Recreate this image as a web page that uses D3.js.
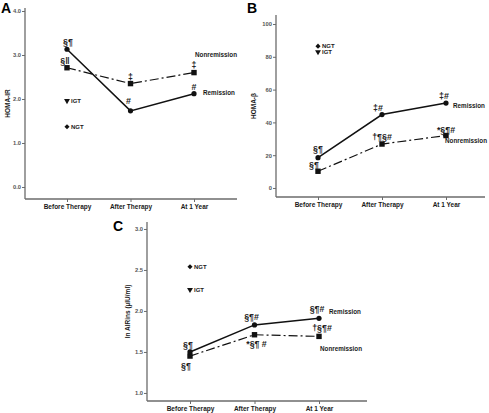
<!DOCTYPE html>
<html><head><meta charset="utf-8">
<script src="https://cdn.jsdelivr.net/npm/d3@7"></script>
<style>
body{margin:0;background:#fff;}
svg text{font-family:"Liberation Sans",Arial,sans-serif;font-weight:bold;}
</style></head>
<body><svg id="c" width="489" height="413"></svg>
<script>
const categories = ["Before Therapy","After Therapy","At 1 Year"];

// Panel A: HOMA-IR
const homaIR_remission = [3.13, 1.73, 2.12];
const homaIR_nonremission = [2.71, 2.35, 2.60];
const homaIR_ref = {NGT:1.37, IGT:1.96};
const homaIR_ann_rem = ["§¶","#","#"];
const homaIR_ann_non = ["§‖","‡","‡"];
const homaIR_ticks = [0,1,2,3,4];

// Panel B: HOMA-beta
const homaB_remission = [18.5, 44.8, 51.8];
const homaB_nonremission = [10.2, 26.8, 32.0];
const homaB_ref = {NGT:86.5, IGT:83.0};
const homaB_ann_rem = ["§¶","‡#","‡#"];
const homaB_ann_non = ["§¶","†¶§#","*§¶#"];
const homaB_ticks = [0,20,40,60,80,100];

// Panel C: ln AIRins
const air_remission = [1.50, 1.83, 1.91];
const air_nonremission = [1.45, 1.71, 1.69];
const air_ref = {NGT:2.54, IGT:2.26};
const air_ann_rem = ["§¶","§¶#","§¶#"];
const air_ann_non = ["§¶","*§¶ #","†§¶#"];
const air_ticks = [1.0,1.5,2.0,2.5,3.0];

const svg = d3.select("#c");
const AX = "#6b6b6b", TX = "#1a1a1a";

function panel(cfg){
  const g = svg.append("g");
  const x = d3.scalePoint().domain(categories).range([cfg.x0 + cfg.pad, cfg.x1 - cfg.padR]);
  const y = d3.scaleLinear().domain(cfg.ydom).range([cfg.yb, cfg.yt]);
  g.append("line").attr("x1",cfg.x0).attr("x2",cfg.x1).attr("y1",cfg.yb).attr("y2",cfg.yb).attr("stroke",AX).attr("stroke-width",1.3);
  g.append("line").attr("x1",cfg.x0).attr("x2",cfg.x0).attr("y1",cfg.yb).attr("y2",cfg.yt).attr("stroke",AX).attr("stroke-width",1.3);
  const ya = g.append("g").attr("transform",`translate(${cfg.x0},0)`)
    .call(d3.axisLeft(y).tickValues(cfg.ticks).tickFormat(cfg.fmt).tickSize(3).tickPadding(1));
  ya.select(".domain").remove();
  ya.selectAll("line").attr("stroke",AX);
  ya.selectAll("text").attr("fill","#555").style("font-size","5.8px");
  const xa = g.append("g").attr("transform",`translate(0,${cfg.yb})`)
    .call(d3.axisBottom(x).tickSize(3).tickPadding(2));
  xa.select(".domain").remove();
  xa.selectAll("line").attr("stroke",AX);
  xa.selectAll("text").attr("fill",TX).style("font-size","6.5px");

  const line = d3.line().x((d,i)=>x(categories[i])).y(d=>y(d));
  g.append("path").datum(cfg.non).attr("d",line).attr("fill","none").attr("stroke","#111")
    .attr("stroke-width",1.2).attr("stroke-dasharray","9,3,2,3");
  g.append("path").datum(cfg.rem).attr("d",line).attr("fill","none").attr("stroke","#111").attr("stroke-width",1.5);
  g.selectAll(".sq").data(cfg.non).enter().append("rect")
    .attr("x",(d,i)=>x(categories[i])-2.7).attr("y",d=>y(d)-2.7).attr("width",5.4).attr("height",5.4).attr("fill","#111");
  g.selectAll(".ci").data(cfg.rem).enter().append("circle")
    .attr("cx",(d,i)=>x(categories[i])).attr("cy",d=>y(d)).attr("r",2.6).attr("fill","#111");

  const x0c = x(categories[0]);
  g.append("path").attr("d",d3.symbol(d3.symbolSquare,13)()).attr("transform",`translate(${x0c},${y(cfg.ref.NGT)}) rotate(45)`).attr("fill","#111");
  g.append("path").attr("d",d3.symbol(d3.symbolTriangle,15)()).attr("transform",`translate(${x0c},${y(cfg.ref.IGT)}) rotate(180)`).attr("fill","#111");
  g.append("text").attr("x",x0c+4).attr("y",y(cfg.ref.NGT)+2.2).text("NGT").attr("fill",TX).style("font-size","6px");
  g.append("text").attr("x",x0c+4).attr("y",y(cfg.ref.IGT)+2.2).text("IGT").attr("fill",TX).style("font-size","6px");

  cfg.annRem.forEach((t,i)=>{
    const o = cfg.annRemOff[i];
    g.append("text").attr("x",x(categories[i])+o[0]).attr("y",y(cfg.rem[i])+o[1]).attr("text-anchor","middle")
      .text(t).attr("fill",TX).style("font-size","8.8px");
  });
  cfg.annNon.forEach((t,i)=>{
    const o = cfg.annNonOff[i];
    g.append("text").attr("x",x(categories[i])+o[0]).attr("y",y(cfg.non[i])+o[1]).attr("text-anchor","middle")
      .text(t).attr("fill",TX).style("font-size","8.8px");
  });
  g.append("text").attr("x",cfg.remLab[0]).attr("y",cfg.remLab[1]).text("Remission").attr("fill",TX).style("font-size","6.3px");
  g.append("text").attr("x",cfg.nonLab[0]).attr("y",cfg.nonLab[1]).text("Nonremission").attr("fill",TX).style("font-size","6.3px");
  g.append("text").attr("transform",`translate(${cfg.ytx},${(cfg.yb+cfg.yt)/2}) rotate(-90)`).attr("text-anchor","middle")
    .text(cfg.ytitle).attr("fill",TX).style("font-size","6.5px");
  g.append("text").attr("x",cfg.letter[0]).attr("y",cfg.letter[1]).text(cfg.letter[2]).attr("fill","#000").style("font-size","14px");
}

panel({x0:25,x1:237,pad:42,padR:43,yb:199,yt:8,ydom:[-0.273,4.068],ticks:homaIR_ticks,fmt:d3.format(".1f"),
  rem:homaIR_remission,non:homaIR_nonremission,ref:homaIR_ref,
  annRem:homaIR_ann_rem,annRemOff:[[1,-4],[-2,-7],[0,-4]],
  annNon:homaIR_ann_non,annNonOff:[[-2,-4],[0,-4],[0,-5]],
  remLab:[203,95],nonLab:[195,57],ytx:10,ytitle:"HOMA-IR",letter:[1,13,"A"]});

panel({x0:276,x1:485,pad:42,padR:39,yb:197,yt:15,ydom:[-5.5,105.5],ticks:homaB_ticks,fmt:d3.format("d"),
  rem:homaB_remission,non:homaB_nonremission,ref:homaB_ref,
  annRem:homaB_ann_rem,annRemOff:[[0,-6],[-4,-4],[-2,-4]],
  annNon:homaB_ann_non,annNonOff:[[-4,-3],[0,-4],[0,-3]],
  remLab:[453,108],nonLab:[445,143],ytx:256,ytitle:"HOMA-β",letter:[247,13,"B"]});

panel({x0:147,x1:367,pad:43,padR:48,yb:401,yt:222,ydom:[0.902,3.085],ticks:air_ticks,fmt:d3.format(".1f"),
  rem:air_remission,non:air_nonremission,ref:air_ref,
  annRem:air_ann_rem,annRemOff:[[-2,-4],[-3,-5],[-2,-6]],
  annNon:air_ann_non,annNonOff:[[-4,13],[2,12],[3,-5]],
  remLab:[329,314],nonLab:[320,351],ytx:130,ytitle:"ln AIRins  (µIU/ml)",letter:[113,231,"C"]});
</script></body></html>
